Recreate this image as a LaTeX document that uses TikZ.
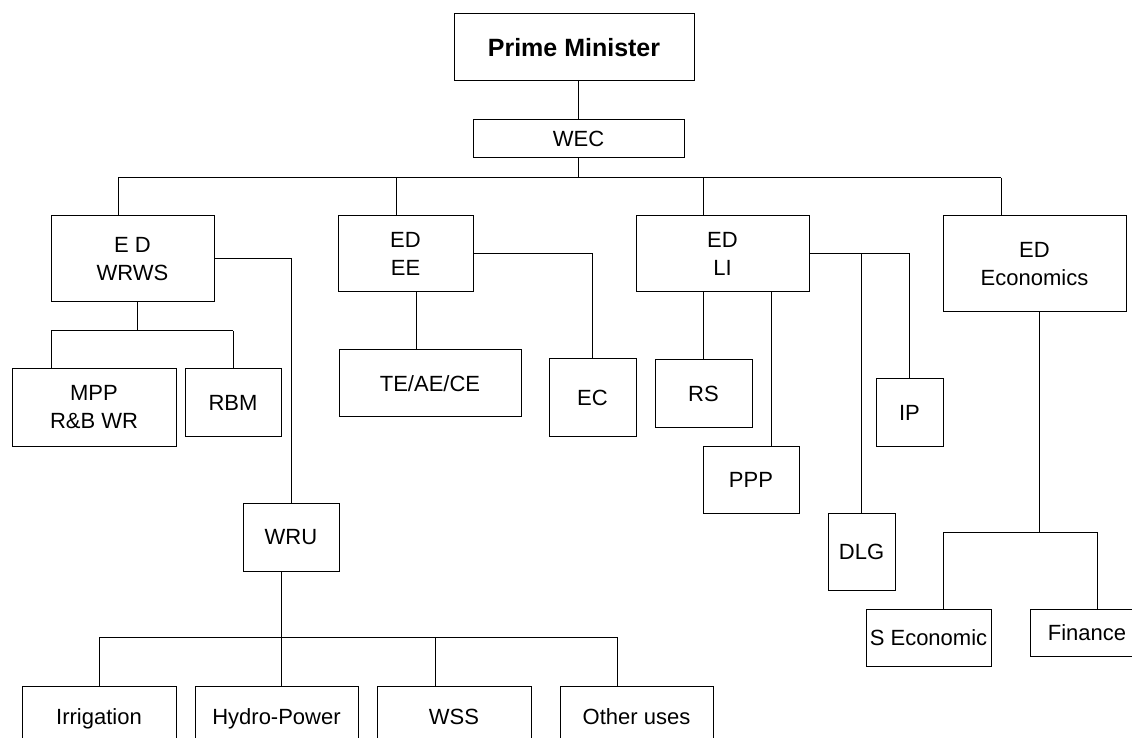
\documentclass[tikz,border=0pt]{standalone}
\usepackage{fontspec}
\setmainfont{Liberation Sans}

\tikzset{
	unit/.style={draw, line width=0.5pt, align=center, inner sep=0pt,
		font=\fontsize{11}{14}\selectfont},
	one/.style={unit, text height=8pt, text depth=0pt},
	link/.style={line width=0.5pt}
}

\begin{document}
\begin{tikzpicture}[x=0.5pt, y=-0.5pt]
	\useasboundingbox (0,0) rectangle (1132,738);

	\node[one, minimum width=120pt, minimum height=33.5pt, text height=9pt, font=\fontsize{12.5}{15}\selectfont\bfseries] (pm) at (574,47.5) {Prime Minister};
	\node[one, minimum width=105.5pt, minimum height=19pt] (wec) at (578.5,139) {WEC};

	\node[unit, minimum width=81.5pt, minimum height=43pt] (edws) at (132.5,259) {E D\\WRWS};
	\node[unit, minimum width=67.5pt, minimum height=38pt] (edee) at (405.5,254) {ED\\EE};
	\node[unit, minimum width=86.5pt, minimum height=38pt] (edli) at (722.5,254) {ED\\LI};
	\node[unit, minimum width=91.5pt, minimum height=48pt] (edec) at (1034.5,264) {ED\\Economics};

	\node[unit, minimum width=82pt, minimum height=38.5pt] (mpp) at (94,407.5) {MPP\\R\&B WR};
	\node[one, minimum width=48pt, minimum height=33.5pt] (rbm) at (233,402.5) {RBM};
	\node[one, minimum width=48pt, minimum height=34pt] (wru) at (291,537) {WRU};

	\node[one, minimum width=91pt, minimum height=33.5pt] (teaece) at (430,383.5) {TE/AE/CE};
	\node[one, minimum width=43.5pt, minimum height=38.5pt] (ec) at (592.5,397.5) {EC};

	\node[one, minimum width=48.5pt, minimum height=33.5pt] (rs) at (703.5,393.5) {RS};
	\node[one, minimum width=48pt, minimum height=33.5pt] (ppp) at (751,479.5) {PPP};
	\node[one, minimum width=33.5pt, minimum height=33.5pt] (ip) at (909.5,412.5) {IP};
	\node[one, minimum width=33.5pt, minimum height=38.5pt] (dlg) at (861.5,551.5) {DLG};

	\node[one, minimum width=62.5pt, minimum height=28.5pt] (secon) at (928.5,637.5) {S Economic};
	\node[one, minimum width=57pt, minimum height=23.5pt] (fin) at (1087,632.5) {Finance};

	\node[one, minimum width=77pt, minimum height=30pt] (irr) at (99,716) {Irrigation};
	\node[one, minimum width=81.5pt, minimum height=30pt] (hydro) at (276.5,716) {Hydro-Power};
	\node[one, minimum width=77pt, minimum height=30pt] (wss) at (454,716) {WSS};
	\node[one, minimum width=76.5pt, minimum height=30pt] (other) at (636.5,716) {Other uses};

	% junctions
	\coordinate (topL) at (118,178);
	\coordinate (topR) at (1001,178);
	\coordinate (topB) at (396,178);
	\coordinate (topC) at (703,178);
	\coordinate (wsL) at (51,331);
	\coordinate (wsM) at (137,331);
	\coordinate (wsR) at (233,331);
	\coordinate (wuL) at (99,637);
	\coordinate (wuM) at (281,637);
	\coordinate (wuW) at (435,637);
	\coordinate (wuR) at (617,637);
	\coordinate (ecL) at (943,532);
	\coordinate (ecR) at (1097,532);

	\draw[link] (wec.north) -- (wec.north |- pm.south);
	\draw[link] (wec.south) -- (wec.south |- topL);
	\draw[link] (topL) -- (topR);
	\draw[link] (topL) -- (topL |- edws.north);
	\draw[link] (topB) -- (topB |- edee.north);
	\draw[link] (topC) -- (topC |- edli.north);
	\draw[link] (topR) -- (topR |- edec.north);

	\draw[link] (wsM |- edws.south) -- (wsM);
	\draw[link] (wsL) -- (wsR);
	\draw[link] (wsL) -- (wsL |- mpp.north);
	\draw[link] (wsR) -- (rbm.north);
	\draw[link] (edws.east) -| (wru.north);

	\draw[link] ([xshift=5.25pt]edee.south) -- ([xshift=5.25pt]edee.south |- teaece.north);
	\draw[link] (edee.east) -| (ec.north);

	\draw[link] (rs.north) -- (rs.north |- edli.south);
	\draw[link] ([xshift=10pt]ppp.north) -- ([xshift=10pt]ppp.north |- edli.south);
	\draw[link] (edli.east) -| (ip.north);
	\draw[link] (dlg.north) -- (dlg.north |- edli.east);

	\draw[link] ([xshift=2.25pt]edec.south) -- ([xshift=2.25pt]edec.south |- ecL);
	\draw[link] (ecL) -- (ecR);
	\draw[link] (ecL) -- (ecL |- secon.north);
	\draw[link] (ecR) -- (ecR |- fin.north);

	\draw[link] (wuM |- wru.south) -- (wuM);
	\draw[link] (wuL) -- (wuR);
	\draw[link] (wuL) -- (irr.north);
	\draw[link] (wuM) -- (wuM |- hydro.north);
	\draw[link] (wuW) -- (wuW |- wss.north);
	\draw[link] (wuR) -- (wuR |- other.north);
\end{tikzpicture}
\end{document}
